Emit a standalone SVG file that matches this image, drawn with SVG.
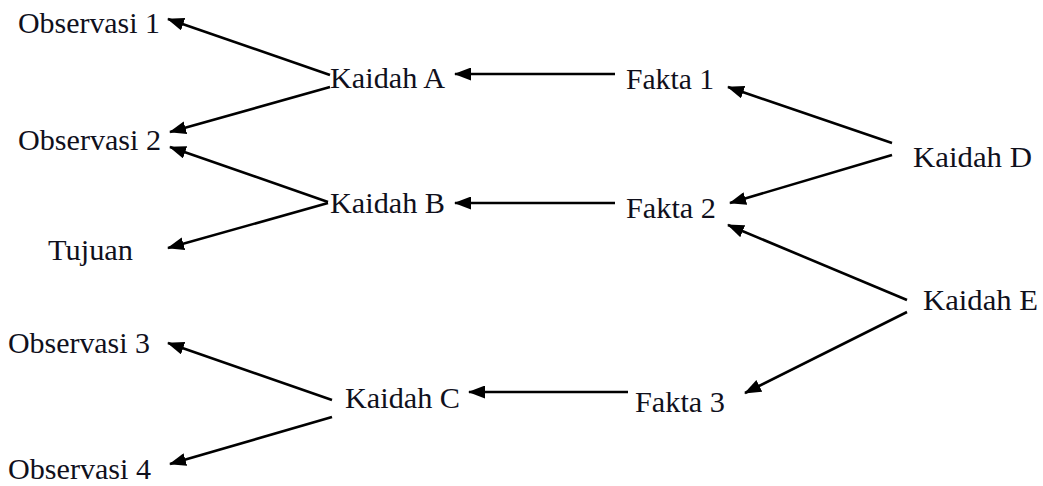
<svg xmlns="http://www.w3.org/2000/svg" width="1043" height="486" viewBox="0 0 1043 486">
<style>
  text { font-family: 'Liberation Serif', 'Times New Roman', Times, serif; font-size: 30px; fill: #10101c; }
  .c line { stroke: #000; stroke-width: 2.6; marker-end: url(#ah); }
</style>
<defs>
  <marker id="ah" markerUnits="userSpaceOnUse" markerWidth="17" markerHeight="13" viewBox="0 0 17 13" refX="16" refY="6.5" orient="auto">
    <path d="M0,0 L17,6.5 L0,13 z" fill="#000"/>
  </marker>
</defs>
<rect width="1043" height="486" fill="#fff"/>
<g class="c" id="connectors">
  <line x1="330" y1="75" x2="168" y2="19"/>
  <line x1="330" y1="87" x2="170" y2="132"/>
  <line x1="328" y1="202" x2="170" y2="147"/>
  <line x1="328" y1="203" x2="168" y2="248"/>
  <line x1="332" y1="400" x2="168" y2="343"/>
  <line x1="332" y1="417" x2="170" y2="464"/>
  <line x1="615" y1="74" x2="455" y2="74"/>
  <line x1="615" y1="203" x2="455" y2="203"/>
  <line x1="628" y1="392" x2="469" y2="392"/>
  <line x1="892" y1="143" x2="728" y2="87"/>
  <line x1="892" y1="155" x2="730" y2="203"/>
  <line x1="907" y1="300" x2="728" y2="225"/>
  <line x1="907" y1="312" x2="745" y2="393"/>
</g>
<g id="obs1"><text x="18" y="33" textLength="142" lengthAdjust="spacingAndGlyphs">Observasi 1</text></g>
<g id="obs2"><text x="18" y="150" textLength="143" lengthAdjust="spacingAndGlyphs">Observasi 2</text></g>
<g id="tujuan"><text x="48" y="260" textLength="85" lengthAdjust="spacingAndGlyphs">Tujuan</text></g>
<g id="obs3"><text x="8" y="353" textLength="142" lengthAdjust="spacingAndGlyphs">Observasi 3</text></g>
<g id="obs4"><text x="8" y="479" textLength="143" lengthAdjust="spacingAndGlyphs">Observasi 4</text></g>
<g id="kaidahA"><text x="330" y="88" textLength="115" lengthAdjust="spacingAndGlyphs">Kaidah A</text></g>
<g id="kaidahB"><text x="330" y="213" textLength="115" lengthAdjust="spacingAndGlyphs">Kaidah B</text></g>
<g id="kaidahC"><text x="345" y="408" textLength="115" lengthAdjust="spacingAndGlyphs">Kaidah C</text></g>
<g id="fakta1"><text x="626" y="89" textLength="88" lengthAdjust="spacingAndGlyphs">Fakta 1</text></g>
<g id="fakta2"><text x="626" y="218" textLength="90" lengthAdjust="spacingAndGlyphs">Fakta 2</text></g>
<g id="fakta3"><text x="635" y="412" textLength="90" lengthAdjust="spacingAndGlyphs">Fakta 3</text></g>
<g id="kaidahD"><text x="913" y="167" textLength="119" lengthAdjust="spacingAndGlyphs">Kaidah D</text></g>
<g id="kaidahE"><text x="923" y="310" textLength="115" lengthAdjust="spacingAndGlyphs">Kaidah E</text></g>
</svg>
